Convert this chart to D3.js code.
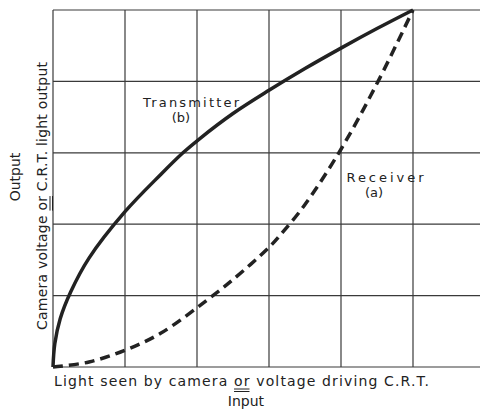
<!DOCTYPE html>
<html lang="en">
<head>
<meta charset="utf-8">
<title>Transmitter and receiver curves</title>
<script src="https://cdn.jsdelivr.net/npm/d3@7"></script>
<style>
  body { margin: 0; background: #fff; overflow: hidden; }
  text { font-family: "DejaVu Sans", sans-serif; fill: #222; }
  .grid line { stroke: #3a3a3a; stroke-width: 1.2px; }
</style>
</head>
<body>
<div id="chart"></div>
<script>
// values (input 0..1, output 0..1)
var transIn  = [0, 0.005, 0.02, 0.049, 0.1, 0.2, 0.3, 0.361, 0.408, 0.5, 0.6, 0.7, 0.805, 0.9, 1];
var transOut = [0, 0.065, 0.135, 0.21, 0.305, 0.435, 0.54, 0.6, 0.64, 0.71, 0.775, 0.836, 0.896, 0.948, 1];

var recvIn  = [0, 0.1, 0.2, 0.3, 0.444, 0.5, 0.6, 0.64, 0.7, 0.8, 0.903, 1];
var recvOut = [0, 0.014, 0.047, 0.095, 0.2, 0.245, 0.335, 0.38, 0.455, 0.61, 0.8, 1];

var gridX = [0, 0.2, 0.4, 0.6, 0.8, 1];
var gridY = [0, 0.2, 0.4, 0.6, 0.8, 1];

var W = 480, H = 409;

var svg = d3.select("#chart").append("svg")
  .attr("width", W)
  .attr("height", H);

var x = d3.scaleLinear().domain([0, 1]).range([53, 413]);
var y = d3.scaleLinear().domain([0, 1]).range([367, 10]);

// grid
var grid = svg.append("g").attr("class", "grid");
grid.selectAll("line.v").data(gridX).enter().append("line")
  .attr("class", "v")
  .attr("x1", function(d) { return x(d); })
  .attr("x2", function(d) { return x(d); })
  .attr("y1", y(1))
  .attr("y2", y(0));
grid.selectAll("line.h").data(gridY).enter().append("line")
  .attr("class", "h")
  .attr("x1", x(0))
  .attr("x2", W)
  .attr("y1", function(d) { return y(d); })
  .attr("y2", function(d) { return y(d); });

var line = d3.line()
  .x(function(d) { return x(d[0]); })
  .y(function(d) { return y(d[1]); })
  .curve(d3.curveCatmullRom.alpha(0.5));

svg.append("path")
  .datum(d3.zip(transIn, transOut))
  .attr("d", line)
  .style("fill", "none")
  .style("stroke", "#222")
  .style("stroke-width", 3.5);

svg.append("path")
  .datum(d3.zip(recvIn, recvOut))
  .attr("d", line)
  .style("fill", "none")
  .style("stroke", "#222")
  .style("stroke-width", 3.5)
  .style("stroke-dasharray", "10,6");

// curve labels
svg.append("text").attr("x", 191).attr("y", 107).attr("text-anchor", "middle")
  .style("font-size", "13px").attr("textLength", 96).text("Transmitter");
svg.append("text").attr("x", 181).attr("y", 122).attr("text-anchor", "middle")
  .style("font-size", "13px").text("(b)");
svg.append("text").attr("x", 385).attr("y", 182).attr("text-anchor", "middle")
  .style("font-size", "13px").attr("textLength", 77).text("Receiver");
svg.append("text").attr("x", 374).attr("y", 197).attr("text-anchor", "middle")
  .style("font-size", "13px").text("(a)");

// x axis title
var xt = svg.append("text").attr("x", 54).attr("y", 386)
  .style("font-size", "14px").attr("textLength", 375);
xt.append("tspan").text("Light seen by camera ");
xt.append("tspan").attr("id", "xor").text("or");
xt.append("tspan").text(" voltage driving C.R.T.");
svg.append("text").attr("x", 246).attr("y", 406).attr("text-anchor", "middle")
  .style("font-size", "14px").text("Input");

// y axis titles
svg.append("text").attr("transform", "translate(20,177) rotate(-90)")
  .attr("text-anchor", "middle").style("font-size", "14px").text("Output");
var yt = svg.append("text").attr("transform", "translate(47,196) rotate(-90)")
  .attr("text-anchor", "middle").style("font-size", "14px").attr("textLength", 268);
yt.append("tspan").text("Camera voltage ");
yt.append("tspan").attr("id", "yor").text("or");
yt.append("tspan").text(" C.R.T. light output");

// double underlines under "or"
var xorNode = d3.select("#xor").node();
var s0 = xorNode.getStartPositionOfChar(0),
    e1 = xorNode.getEndPositionOfChar(xorNode.getNumberOfChars() - 1);
[389, 391.5].forEach(function(yy) {
  svg.append("line").attr("x1", s0.x).attr("x2", e1.x).attr("y1", yy).attr("y2", yy)
    .style("stroke", "#222").style("stroke-width", 1);
});
var yorNode = d3.select("#yor").node();
var ys0 = yorNode.getStartPositionOfChar(0),
    ye1 = yorNode.getEndPositionOfChar(yorNode.getNumberOfChars() - 1);
var yg = svg.append("g").attr("transform", "translate(47,196) rotate(-90)");
[3, 5.5].forEach(function(off) {
  yg.append("line").attr("x1", ys0.x).attr("x2", ye1.x).attr("y1", off).attr("y2", off)
    .style("stroke", "#222").style("stroke-width", 1);
});
</script>
</body>
</html>
